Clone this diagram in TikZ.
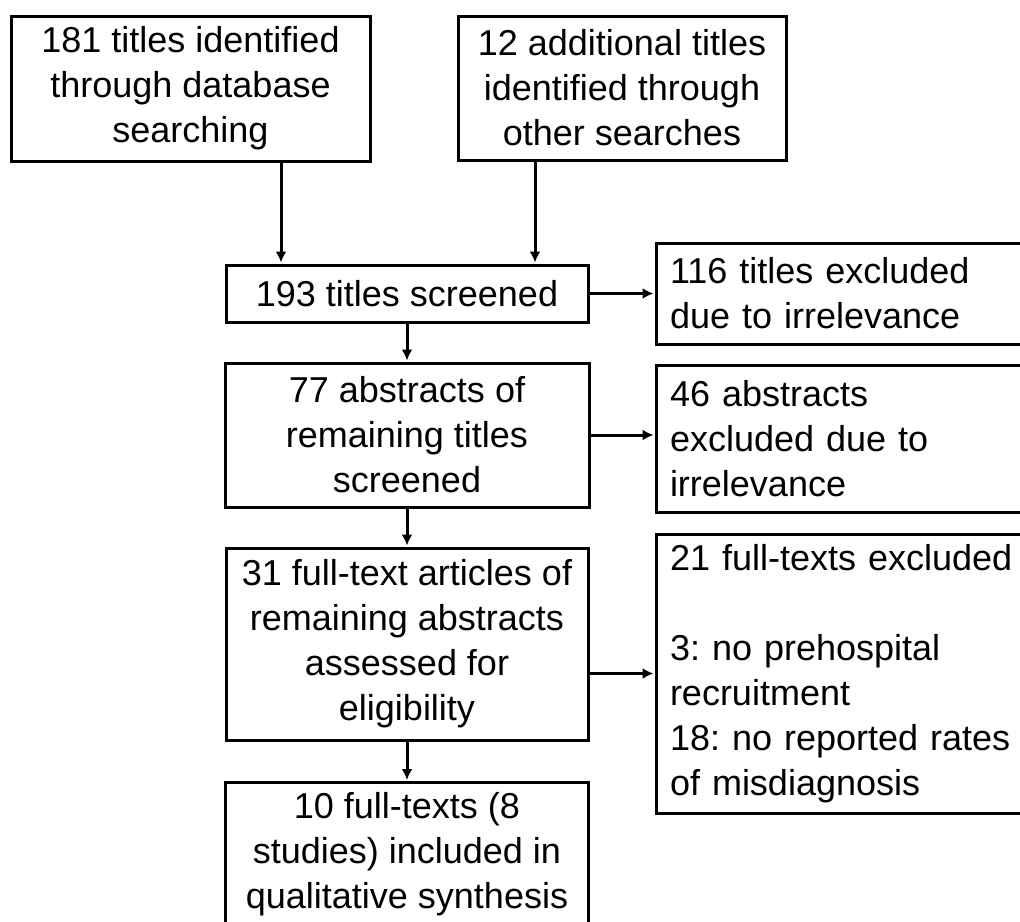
\documentclass[tikz,border=0pt]{standalone}
\usepackage{fontspec}
\setmainfont{Liberation Sans}
\usetikzlibrary{arrows.meta, positioning, calc}
\frenchspacing

\begin{document}
\begin{tikzpicture}[x=1pt, y=-1pt,
    box/.style={draw, line width=3pt, align=center, inner sep=0pt, font=\fontsize{36}{45}\selectfont},
    sidebox/.style={draw, line width=3pt, align=left, text width=356pt, inner xsep=14pt, inner ysep=0pt, font=\fontsize{36}{45}\selectfont},
    arr/.style={-{Latex[length=11pt, width=11pt]}, line width=3pt, shorten >=1pt}]
  \clip (0,0) rectangle (1020,921);
  % Identification
  \node[box, minimum width=359pt, minimum height=145pt] (db) at (190.5,88.5) {181 titles identified\\through database\\searching};
  \node[box, minimum width=328pt, minimum height=144pt] (other) at (622,88) {12 additional titles\\identified through\\other searches};
  % Screening
  \node[box, minimum width=362pt, minimum height=57pt] (screened) at (407,293.5) {193 titles screened};
  \node[box, minimum width=364pt, minimum height=144pt] (abstracts) at (407,435) {77 abstracts of\\remaining titles\\screened};
  % Eligibility
  \node[box, minimum width=362pt, minimum height=192pt] (fulltext) at (407,644) {31 full-text articles of\\remaining abstracts\\assessed for\\eligibility};
  % Included
  \node[box, anchor=north, minimum width=363pt, inner ysep=10pt] (incl) at (407,781) {10 full-texts (8\\studies) included in\\qualitative synthesis};
  % Exclusions
  \node[sidebox, minimum height=101pt] (exclA) at (848,293.5) {116 titles excluded\\due to irrelevance};
  \node[sidebox, minimum height=147pt] (exclB) at (848,438.5) {46 abstracts\\excluded due to\\irrelevance};
  \node[sidebox, minimum height=279pt] (exclC) at (848,673.5) {21 full-texts excluded\\[45pt]3: no prehospital\\recruitment\\18: no reported rates\\of misdiagnosis};
  % Flow
  \draw[arr] ([xshift=90.5pt]db.south) -- ([xshift=90.5pt]db.south |- screened.north);
  \draw[arr] ([xshift=-87pt]other.south) -- ([xshift=-87pt]other.south |- screened.north);
  \draw[arr] (screened.south) -- (abstracts.north);
  \draw[arr] (abstracts.south) -- (fulltext.north);
  \draw[arr] (fulltext.south) -- (incl.north);
  \draw[arr] (screened.east) -- (exclA.west);
  \draw[arr] (abstracts.east) -- (abstracts.east -| exclB.west);
  \draw[arr] (fulltext.east |- exclC.west) -- (exclC.west);
\end{tikzpicture}
\end{document}
